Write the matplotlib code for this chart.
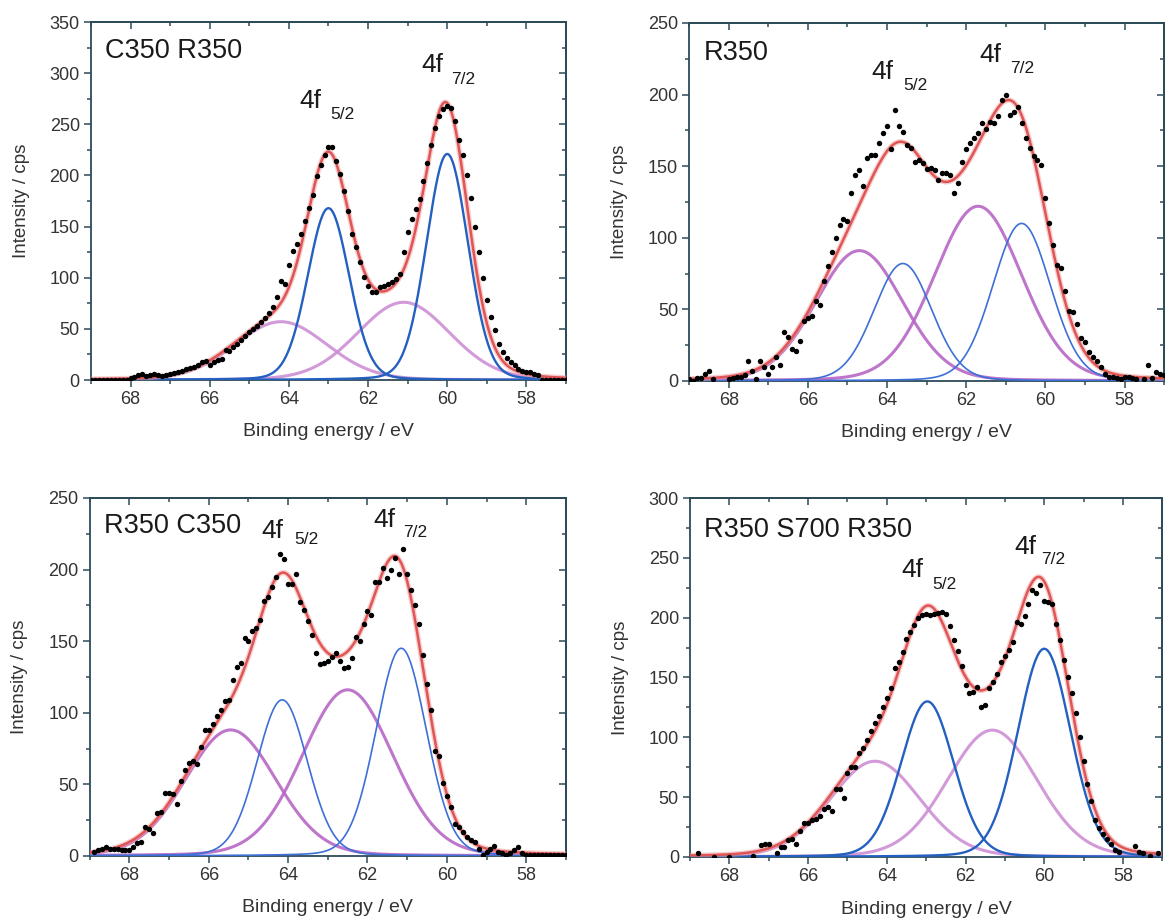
import matplotlib.pyplot as plt
import numpy as np
from matplotlib.ticker import MultipleLocator

plt.rcParams['font.family'] = ['Liberation Sans', 'DejaVu Sans']

nan = np.nan

# measured points, cps, every 0.1 eV from 69.0 eV down to 57.0 eV
e_start = 69.0
e_step = 0.1

c350_r350 = [0, 0, 0, 0, 0, 0, 0, 0, 0, 0,
             2, 3, 5, 6, 4, 5, 6, 5, 4, 5,
             6, 7, 8, 9, 11, 12, 13, 15, 18, 19,
             15, 18, 20, 21, 29, 28, 32, 35, 39, 43,
             47, 50, 53, 57, 61, 66, 71, 81, 97, 94,
             112, 126, 133, 143, 155, 168, 181, 199, 210, 220,
             228, 228, 214, 201, 185, 165, 143, 130, 115, 101,
             92, 86, 86, 91, 92, 94, 96, 99, 104, 125,
             145, 157, 167, 177, 195, 212, 230, 246, 258, 265,
             268, 266, 253, 235, 220, 200, 178, 150, 125, 100,
             78, 62, 49, 35, 27, 22, 18, 15, 11, 9,
             8, 8, 6, 5, 0, 0, 0, 0, 0, 0, 0]

r350 = [1, 0, 2, 2, 5, 7, 1, nan, nan, nan,
        1, 2, 3, 3, 4, 14, 7, 1, 14, 10,
        5, 10, 17, 11, 34, 31, 22, 21, 28, 42,
        44, 45, 56, 53, 70, 80, 90, 100, 109, 113,
        112, 131, 144, 147, 136, 156, 158, 158, 166, 173,
        178, 162, 189, 178, 174, 165, 163, 153, 154, 152,
        148, 149, 147, 140, 145, 145, 144, 131, 138, 153,
        162, 166, 170, 173, 180, 176, 181, 180, 185, 196,
        200, 186, 188, 191, 180, 170, 163, 157, 154, 151,
        128, 110, 95, 81, 79, 63, 49, 48, 40, 30,
        27, 20, 17, 14, 10, 5, 3, 3, 2, 1,
        3, 3, 2, 1, nan, 1, 11, 2, 6, 5, 4]

r350_c350 = [nan, 3, 4, 5, 6, 5, 5, 5, 4, 4,
             4, 6, 9, 10, 20, 19, 16, 30, 31, 44,
             44, 43, 36, 52, 60, 65, 66, 64, 76, 88,
             88, 92, 98, 102, 108, 109, 123, 132, 135, 152,
             150, 157, 159, 165, 178, 181, 188, 195, 211, 207,
             190, 190, 197, 177, 172, 164, 154, 142, 134, 135,
             136, 139, 142, 136, 131, 132, 138, 153, 150, 162,
             171, 168, 191, 191, 201, 194, 200, 208, 197, 214,
             197, 186, 175, 162, 140, 120, 102, 73, 70, 51,
             42, 34, 22, 20, 17, 13, 11, 10, 5, 1,
             3, 5, 7, 3, 2, 1, 2, 4, 6, 2,
             1, 1, 1, 1, 1, 1, 1, 1, 1, 1, 1]

r350_s700_r350 = [nan, nan, 3, nan, nan, nan, 0, nan, nan, nan,
                  0, nan, nan, nan, nan, nan, 1, nan, 10, 11,
                  11, nan, 3, 8, 8, 14, 15, 11, 22, 28,
                  28, 31, 32, 34, 40, 42, 38, 57, 57, 49,
                  70, 75, 75, 87, 91, 98, 105, 112, 118, 125,
                  133, 141, 158, 163, 171, 182, 188, 194, 200, 202,
                  203, 202, 203, 204, 205, 203, 193, 181, 172, 160,
                  144, 137, 138, 142, 125, 127, 141, 146, 153, 163,
                  168, 173, 180, 196, 195, 201, 211, 223, 221, 227,
                  214, 213, 211, 195, 181, 165, 150, 137, 120, 100,
                  80, 61, 47, 31, 24, 19, 15, 11, 6, 4,
                  nan, nan, nan, 9, 4, 3, nan, 1, nan, 3, nan]

# fitted components: (centre / eV, height / cps, FWHM / eV)
c350_r350_blue = [(60.0, 221, 1.24), (63.0, 168, 1.24)]
c350_r350_violet = [(61.1, 76, 2.75), (64.2, 57, 2.75)]
r350_blue = [(60.6, 110, 1.72), (63.6, 82, 1.72)]
r350_violet = [(61.7, 122, 2.6), (64.7, 91, 2.6)]
r350_c350_blue = [(61.15, 145, 1.5), (64.15, 109, 1.5)]
r350_c350_violet = [(62.5, 116, 2.7), (65.45, 88, 2.7)]
r350_s700_r350_blue = [(60.0, 174, 1.58), (62.97, 130, 1.58)]
r350_s700_r350_violet = [(61.32, 106, 2.7), (64.3, 80, 2.7)]
lorentz_share = 0.1

titles = ['C350 R350', 'R350', 'R350 C350', 'R350 S700 R350']
ymaxes = [350, 250, 250, 300]


def peak(x, c, h, w):
    g = np.exp(-4 * np.log(2) * (x - c) ** 2 / w ** 2)
    lo = 1 / (1 + (2 * (x - c) / w) ** 2)
    return h * ((1 - lorentz_share) * g + lorentz_share * lo)


fig = plt.figure(figsize=(11.66, 9.19), dpi=100)

positions = [[0.078, 0.5865, 0.4074, 0.3895],
             [0.591, 0.5855, 0.4074, 0.3895],
             [0.077, 0.0686, 0.4083, 0.3896],
             [0.5918, 0.0675, 0.405, 0.3906]]

spectra = [c350_r350, r350, r350_c350, r350_s700_r350]
blues = [c350_r350_blue, r350_blue, r350_c350_blue, r350_s700_r350_blue]
violets = [c350_r350_violet, r350_violet, r350_c350_violet, r350_s700_r350_violet]
title_y = [0.90, 0.897, 0.902, 0.89]
# (x, y) of "4f" and of the j subscript, data coordinates
f52 = [(63.73, 266, 62.95, 255), (64.4, 211, 63.59, 203.5),
       (64.68, 222, 63.84, 217.6), (63.63, 234, 62.84, 224)]
f72 = [(60.66, 300.7, 59.89, 289), (61.66, 223, 60.89, 215),
       (61.86, 230, 61.11, 222.7), (60.77, 253.5, 60.07, 244.6)]
thin = [False, True, True, False]

spine_c = '#2d4a58'
text_c = '#333333'
xx = np.linspace(69, 57, 1200)

for i in range(4):
    ax = fig.add_axes(positions[i])
    y = np.array(spectra[i], dtype=float)
    e = e_start - e_step * np.arange(len(y))

    bw = 1.2 if thin[i] else 1.7
    bc = '#3d6fd6' if thin[i] else '#2360c0'
    vc = '#b767c6' if thin[i] else '#cd8fd5'
    total = np.zeros_like(xx)
    for c, h, w in violets[i]:
        comp = peak(xx, c, h, w)
        total += comp
        ax.plot(xx, comp, color=vc, lw=2.2, alpha=0.9, zorder=2)
    for c, h, w in blues[i]:
        comp = peak(xx, c, h, w)
        total += comp
        ax.plot(xx, comp, color=bc, lw=bw, zorder=3)
    ax.plot(xx, total, color='#f0a0a0', lw=3.8, alpha=0.5, zorder=4)
    ax.plot(xx, total, color='#e05555', lw=1.8, zorder=5)
    ax.plot(e, y, 'o', color='black', ms=3.9, mec='none', zorder=6)

    ax.set_xlim(69, 57)
    ax.set_ylim(0, ymaxes[i])
    ax.set_xticks([68, 66, 64, 62, 60, 58])
    ax.xaxis.set_minor_locator(MultipleLocator(1))
    ax.yaxis.set_major_locator(MultipleLocator(50))
    ax.yaxis.set_minor_locator(MultipleLocator(25))
    ax.tick_params(which='both', direction='out', color=spine_c, width=1.1,
                   labelsize=13, labelcolor=text_c)
    ax.tick_params(which='major', length=5, pad=3)
    ax.tick_params(which='minor', length=3)
    for s in ax.spines.values():
        s.set_color(spine_c)
        s.set_linewidth(1.3)

    top = ax.secondary_xaxis('top')
    top.set_xticks([68, 66, 64, 62, 60, 58])
    top.xaxis.set_minor_locator(MultipleLocator(1))
    top.tick_params(which='both', direction='in', color=spine_c, width=1.1, labeltop=False)
    top.tick_params(which='major', length=5)
    top.tick_params(which='minor', length=3)
    top.spines['top'].set_color(spine_c)
    top.spines['top'].set_linewidth(1.3)
    right = ax.secondary_yaxis('right')
    right.yaxis.set_major_locator(MultipleLocator(50))
    right.yaxis.set_minor_locator(MultipleLocator(25))
    right.tick_params(which='both', direction='in', color=spine_c, width=1.1, labelright=False)
    right.tick_params(which='major', length=5)
    right.tick_params(which='minor', length=3)
    right.spines['right'].set_color(spine_c)
    right.spines['right'].set_linewidth(1.3)

    ax.text(-0.147, 0.5, 'Intensity / cps', transform=ax.transAxes, rotation=90,
            ha='center', va='center', fontsize=13.5, color=text_c)
    ax.text(0.5, -0.145, 'Binding energy / eV', transform=ax.transAxes,
            ha='center', va='center', fontsize=14, color=text_c)
    ax.text(0.03, title_y[i], titles[i], transform=ax.transAxes,
            ha='left', va='baseline', fontsize=19.5, color='#1a1a1a')

    for lab, pos in [('5/2', f52[i]), ('7/2', f72[i])]:
        ax.text(pos[0], pos[1], '4f', ha='left', va='baseline', fontsize=19, color='#1a1a1a')
        ax.text(pos[2], pos[3], lab, ha='left', va='baseline', fontsize=12.5, color='#1a1a1a')

fig.savefig('out.png', dpi=100)
